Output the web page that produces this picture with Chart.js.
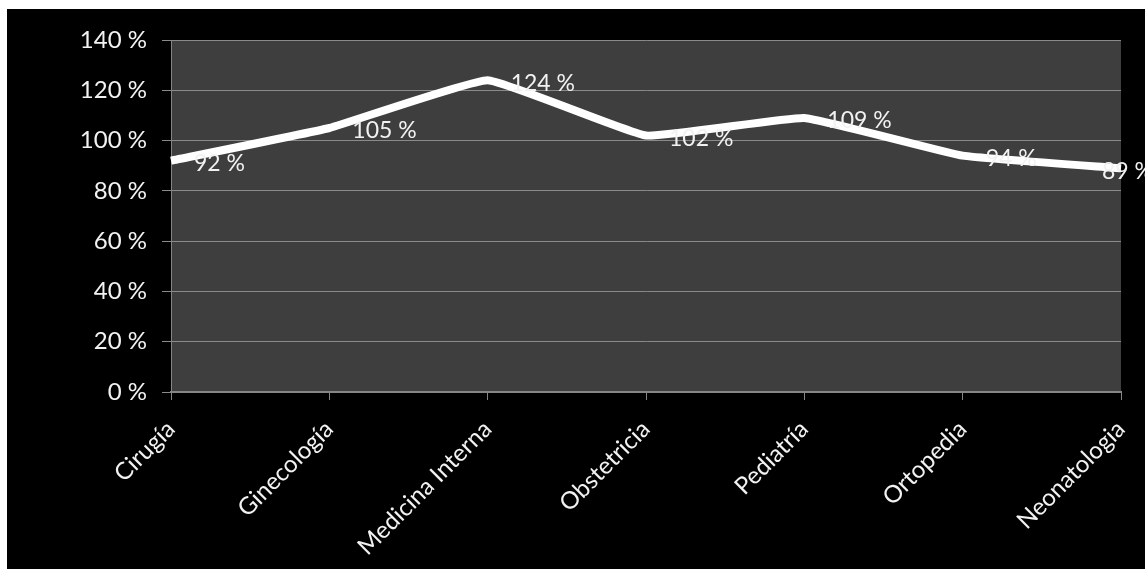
<!DOCTYPE html>
<html><head><meta charset="utf-8">
<script src="https://cdn.jsdelivr.net/npm/chart.js@4/dist/chart.umd.min.js"></script>
<style>
html,body{margin:0;padding:0;background:#fff;width:1145px;height:569px;overflow:hidden}
#wrap{position:absolute;left:7px;top:9px;width:1138px;height:560px;background:#000}
</style></head><body>
<div id="wrap"><canvas id="c" width="1138" height="560"></canvas></div>
<script>
const categories = ["Cirugía","Ginecología","Medicina Interna","Obstetricia","Pediatría","Ortopedia","Neonatologia"];
const values = [92,105,124,102,109,94,89];
const yTicks = [0,20,40,60,80,100,120,140];

const FONT = "Lato, 'Open Sans', sans-serif";

const bgPlugin = {
  id:'plotbg',
  beforeDraw(chart){
    const {ctx, chartArea:a} = chart;
    ctx.save(); ctx.fillStyle = '#3e3e3e';
    ctx.fillRect(a.left, a.top, a.right-a.left, a.bottom-a.top);
    ctx.restore();
  }
};
const labelPlugin = {
  id:'vlabels',
  afterDatasetsDraw(chart){
    const {ctx} = chart;
    const meta = chart.getDatasetMeta(0);
    ctx.save();
    ctx.font = "23px " + FONT;
    ctx.fillStyle = '#f2f2f2';
    ctx.textAlign = 'left'; ctx.textBaseline = 'middle';
    meta.data.forEach((p,i)=>{
      const x = Math.min(p.x + 23, chart.chartArea.right - 19);
      ctx.fillText(values[i] + ' %', x, p.y + 3);
    });
    ctx.restore();
  }
};

new Chart(document.getElementById('c'), {
  type:'line',
  data:{labels:categories, datasets:[{data:values, borderColor:'#ffffff', borderWidth:8, pointRadius:0, tension:0.1, borderJoinStyle:'round', fill:false}]},
  options:{
    responsive:false, animation:false,
    layout:{padding:{top:31,right:24,left:0,bottom:0}},
    plugins:{legend:{display:false}, tooltip:{enabled:false}},
    scales:{
      x:{
        offset:false,
        grid:{display:true, drawOnChartArea:false, color:'#868686', tickLength:8, lineWidth:1},
        border:{display:true, color:'#868686', width:2},
        ticks:{color:'#f2f2f2', font:{size:24, family:FONT}, maxRotation:45, minRotation:45, padding:15, autoSkip:false},
        afterFit(s){ s.height = 177; s.paddingLeft = 0; s.paddingRight = 0; }
      },
      y:{
        min:0, max:140,
        afterBuildTicks(s){ s.ticks = yTicks.map(v=>({value:v})); },
        grid:{color:'#8a8a8a', tickLength:9, lineWidth:1},
        border:{display:true, color:'#868686', width:1},
        ticks:{color:'#f2f2f2', font:{size:24, family:FONT}, padding:15, callback:v=>v+' %'},
        afterFit(s){ s.width = 164; s.paddingTop = 0; s.paddingBottom = 0; }
      }
    }
  },
  plugins:[bgPlugin, labelPlugin]
});
</script>
</body></html>
